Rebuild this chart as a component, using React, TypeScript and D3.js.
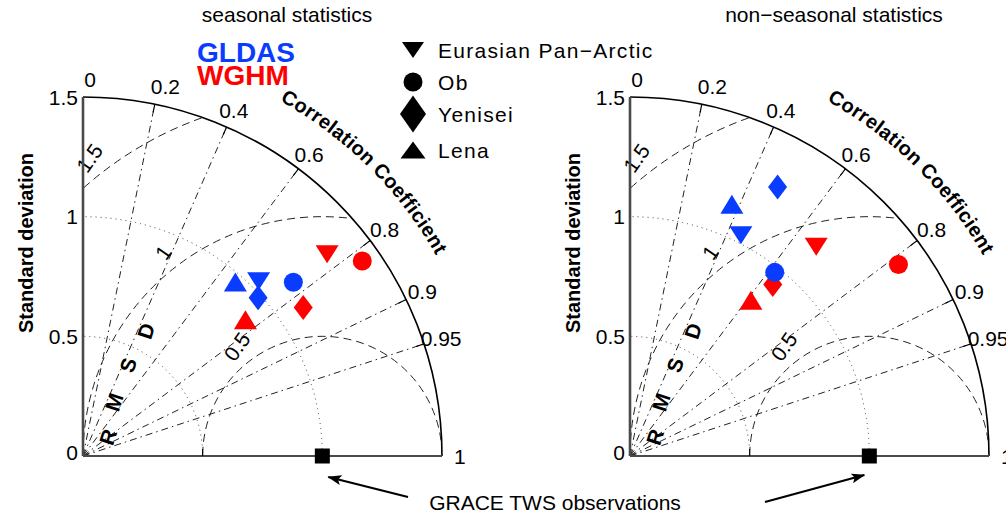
import React from "react";
import * as d3 from "d3";

// basins and the marker used for each
const basins = ["Eurasian Pan\u2212Arctic", "Ob", "Yenisei", "Lena"];
const shapes = ["down", "circle", "diamond", "up"];
const modelNames = ["GLDAS", "WGHM"];
const modelColors = ["#0a3cff", "#ff0000"];

// normalized standard deviation and correlation, order = basins
const seasonalGldasStd = [1.035, 1.14, 0.986, 0.966];
const seasonalGldasCorr = [0.709, 0.771, 0.742, 0.659];
const seasonalWghmStd = [1.323, 1.423, 1.11, 0.886];
const seasonalWghmCorr = [0.771, 0.82, 0.829, 0.766];
const nonSeasonalGldasStd = [1.032, 0.977, 1.282, 1.135];
const nonSeasonalGldasCorr = [0.449, 0.619, 0.481, 0.375];
const nonSeasonalWghmStd = [1.17, 1.378, 0.932, 0.824];
const nonSeasonalWghmCorr = [0.665, 0.814, 0.64, 0.613];

const corrTicks = [0, 0.2, 0.4, 0.6, 0.8, 0.9, 0.95, 1];
const corrLines = [0.2, 0.4, 0.6, 0.8, 0.9, 0.95];
const stdTicks = [0, 0.5, 1, 1.5];
const stdArcs = [0.5, 1];
const rmsdCircles = [0.5, 1, 1.5];
const refStd = 1;
const stdMax = 1.5;

const W = 1006;
const H = 516;
const R = 359;
const FONT = "'Liberation Sans', Arial, sans-serif";
const deg = Math.PI / 180;

const plotSize: any = {
  up: [23, 19],
  down: [23, 18],
  diamond: [19, 25],
  circle: [19, 19],
};
const legendSize: any = {
  down: [22, 16],
  circle: [19, 19],
  diamond: [26, 37],
  up: [25, 17],
};

function Marker({ shape, x, y, size, fill }: any) {
  const [w, h] = size[shape];
  if (shape === "circle") return <circle cx={x} cy={y} r={w / 2} fill={fill} />;
  let d;
  if (shape === "up") d = `M${x},${y - h / 2}L${x + w / 2},${y + h / 2}L${x - w / 2},${y + h / 2}Z`;
  else if (shape === "down") d = `M${x - w / 2},${y - h / 2}L${x + w / 2},${y - h / 2}L${x},${y + h / 2}Z`;
  else d = `M${x},${y - h / 2}L${x + w / 2},${y}L${x},${y + h / 2}L${x - w / 2},${y}Z`;
  return <path d={d} fill={fill} />;
}

function Taylor({ id, ox, oy, title, series }: any) {
  const r = d3.scaleLinear().domain([0, stdMax]).range([0, R]);
  const px = (s: number, c: number) => ox + r(s) * c;
  const py = (s: number, c: number) => oy - r(s) * Math.sqrt(Math.max(0, 1 - c * c));

  const outer = d3.path();
  outer.moveTo(ox, oy - R);
  outer.arc(ox, oy, R, -90 * deg, 0, false);

  const clip = d3.path();
  clip.moveTo(ox, oy);
  clip.lineTo(ox, oy - R);
  clip.arc(ox, oy, R, -90 * deg, 0, false);
  clip.closePath();

  const labelArc = d3.path();
  const la = 406;
  labelArc.moveTo(ox + la * Math.cos(-61 * deg), oy + la * Math.sin(-61 * deg));
  labelArc.arc(ox, oy, la, -61 * deg, -15 * deg, false);

  const rmsdLetters = [
    ["R", 25, -19],
    ["M", 31, -54],
    ["S", 45, -91],
    ["D", 63, -125],
  ];

  return (
    <g>
      <defs>
        <clipPath id={`clip-${id}`}>
          <path d={clip.toString()} />
        </clipPath>
        <path id={`arc-${id}`} d={labelArc.toString()} />
      </defs>

      <text x={ox + 204} y={22} textAnchor="middle" fontSize={21} fontFamily={FONT}>
        {title}
      </text>

      <g clipPath={`url(#clip-${id})`} fill="none">
        {stdArcs.map((s) => (
          <circle key={s} cx={ox} cy={oy} r={r(s)} stroke="#444" strokeWidth={1} strokeDasharray="1,4" />
        ))}
        {rmsdCircles.map((d) => (
          <circle key={d} cx={px(refStd, 1)} cy={oy} r={r(d)} stroke="#222" strokeWidth={1} strokeDasharray="8,5" />
        ))}
      </g>

      {corrLines.map((c) => (
        <line
          key={c}
          x1={ox}
          y1={oy}
          x2={px(stdMax, c)}
          y2={py(stdMax, c)}
          stroke="#222"
          strokeWidth={1}
          strokeDasharray="7,4,1.5,4"
        />
      ))}
      {corrLines.map((c) => (
        <line
          key={"t" + c}
          x1={px(stdMax, c)}
          y1={py(stdMax, c)}
          x2={px(stdMax - 0.035, c)}
          y2={py(stdMax - 0.035, c)}
          stroke="#000"
          strokeWidth={1.2}
        />
      ))}

      {rmsdCircles.map((d) => {
        const a = 128 * deg;
        const x = px(refStd, 1) + r(d + 0.08) * Math.cos(a);
        const y = oy - r(d + 0.08) * Math.sin(a);
        return (
          <text
            key={"rl" + d}
            transform={`translate(${x},${y}) rotate(-55)`}
            textAnchor="middle"
            dominantBaseline="central"
            fontSize={21}
            fontFamily={FONT}
          >
            {d}
          </text>
        );
      })}

      {rmsdLetters.map(([t, dx, dy]: any) => (
        <text
          key={t}
          transform={`translate(${ox + dx},${oy + dy}) rotate(-72)`}
          textAnchor="middle"
          dominantBaseline="central"
          fontSize={21}
          fontWeight="bold"
          fontFamily={FONT}
        >
          {t}
        </text>
      ))}

      <path d={outer.toString()} fill="none" stroke="#000" strokeWidth={1.6} />
      <line x1={ox} y1={oy} x2={ox} y2={oy - R} stroke="#4a4a4a" strokeWidth={2.6} />
      <line x1={ox} y1={oy} x2={ox + R} y2={oy} stroke="#4a4a4a" strokeWidth={2} />
      {[0.5, 1].map((s) => (
        <line key={"xt" + s} x1={px(s, 1)} y1={oy} x2={px(s, 1)} y2={oy - 7} stroke="#000" strokeWidth={1} />
      ))}

      {stdTicks.map((s) => (
        <text
          key={"st" + s}
          x={ox - 5}
          y={oy - r(s) - (s === 0 ? 4 : 0)}
          textAnchor="end"
          dominantBaseline="central"
          fontSize={21}
          fontFamily={FONT}
        >
          {s}
        </text>
      ))}
      {corrTicks.map((c) => (
        <text
          key={"ct" + c}
          x={px(1.575, c) + (c < 0.3 ? 7 : 0)}
          y={py(1.575, c)}
          textAnchor="middle"
          dominantBaseline="central"
          fontSize={21}
          fontFamily={FONT}
        >
          {c}
        </text>
      ))}

      <text fontSize={20} fontWeight="bold" fontFamily={FONT} letterSpacing={0.3}>
        <textPath href={`#arc-${id}`}>Correlation Coefficient</textPath>
      </text>

      <text
        transform={`translate(${ox - 50},243) rotate(-90)`}
        textAnchor="middle"
        fontSize={20}
        fontWeight="bold"
        fontFamily={FONT}
      >
        Standard deviation
      </text>

      {[1, 0].map((m) =>
        series[m].std.map((s: number, i: number) => (
          <Marker
            key={m + "-" + i}
            shape={shapes[i]}
            x={px(s, series[m].corr[i])}
            y={py(s, series[m].corr[i])}
            size={plotSize}
            fill={modelColors[m]}
          />
        ))
      )}

      <rect x={px(refStd, 1) - 7.5} y={oy - 7.5} width={15} height={15} fill="#000" />
    </g>
  );
}

export default function App() {
  const left = { ox: 83, oy: 456 };
  const right = { ox: 630, oy: 456 };
  const sqL = left.ox + (R / stdMax) * refStd;
  const sqR = right.ox + (R / stdMax) * refStd;

  return (
    <svg width={W} height={H} style={{ position: "absolute", left: 0, top: 0, background: "#fff" }}>
      <defs>
        <marker id="arrow" viewBox="0 0 14 10" refX={13} refY={5} markerWidth={14} markerHeight={10} markerUnits="userSpaceOnUse" orient="auto">
          <path d="M0,0L14,5L0,10L3,5Z" fill="#000" />
        </marker>
      </defs>
      <rect width={W} height={H} fill="#fff" />

      <Taylor
        id="s"
        {...left}
        title="seasonal statistics"
        series={[
          { std: seasonalGldasStd, corr: seasonalGldasCorr },
          { std: seasonalWghmStd, corr: seasonalWghmCorr },
        ]}
      />
      <Taylor
        id="n"
        {...right}
        title={"non\u2212seasonal statistics"}
        series={[
          { std: nonSeasonalGldasStd, corr: nonSeasonalGldasCorr },
          { std: nonSeasonalWghmStd, corr: nonSeasonalWghmCorr },
        ]}
      />

      {modelNames.map((n, i) => (
        <text key={n} x={197} y={62 + i * 23} fontSize={28} fontWeight="bold" fill={modelColors[i]} fontFamily={FONT}>
          {n}
        </text>
      ))}

      {basins.map((b, i) => {
        const ys = [50, 82, 114, 150];
        return (
          <g key={b}>
            <Marker shape={shapes[i]} x={413} y={ys[i]} size={legendSize} fill="#000" />
            <text x={438} y={ys[i] + 7.5} fontSize={21} fontFamily={FONT} letterSpacing={1.3}>
              {b}
            </text>
          </g>
        );
      })}

      <line x1={408} y1={497} x2={sqL + 6} y2={477} stroke="#000" strokeWidth={2.2} markerEnd="url(#arrow)" />
      <line x1={765} y1={502} x2={sqR - 5} y2={475} stroke="#000" strokeWidth={2.2} markerEnd="url(#arrow)" />
      <text x={555} y={510} textAnchor="middle" fontSize={21} fontFamily={FONT}>
        GRACE TWS observations
      </text>
    </svg>
  );
}
